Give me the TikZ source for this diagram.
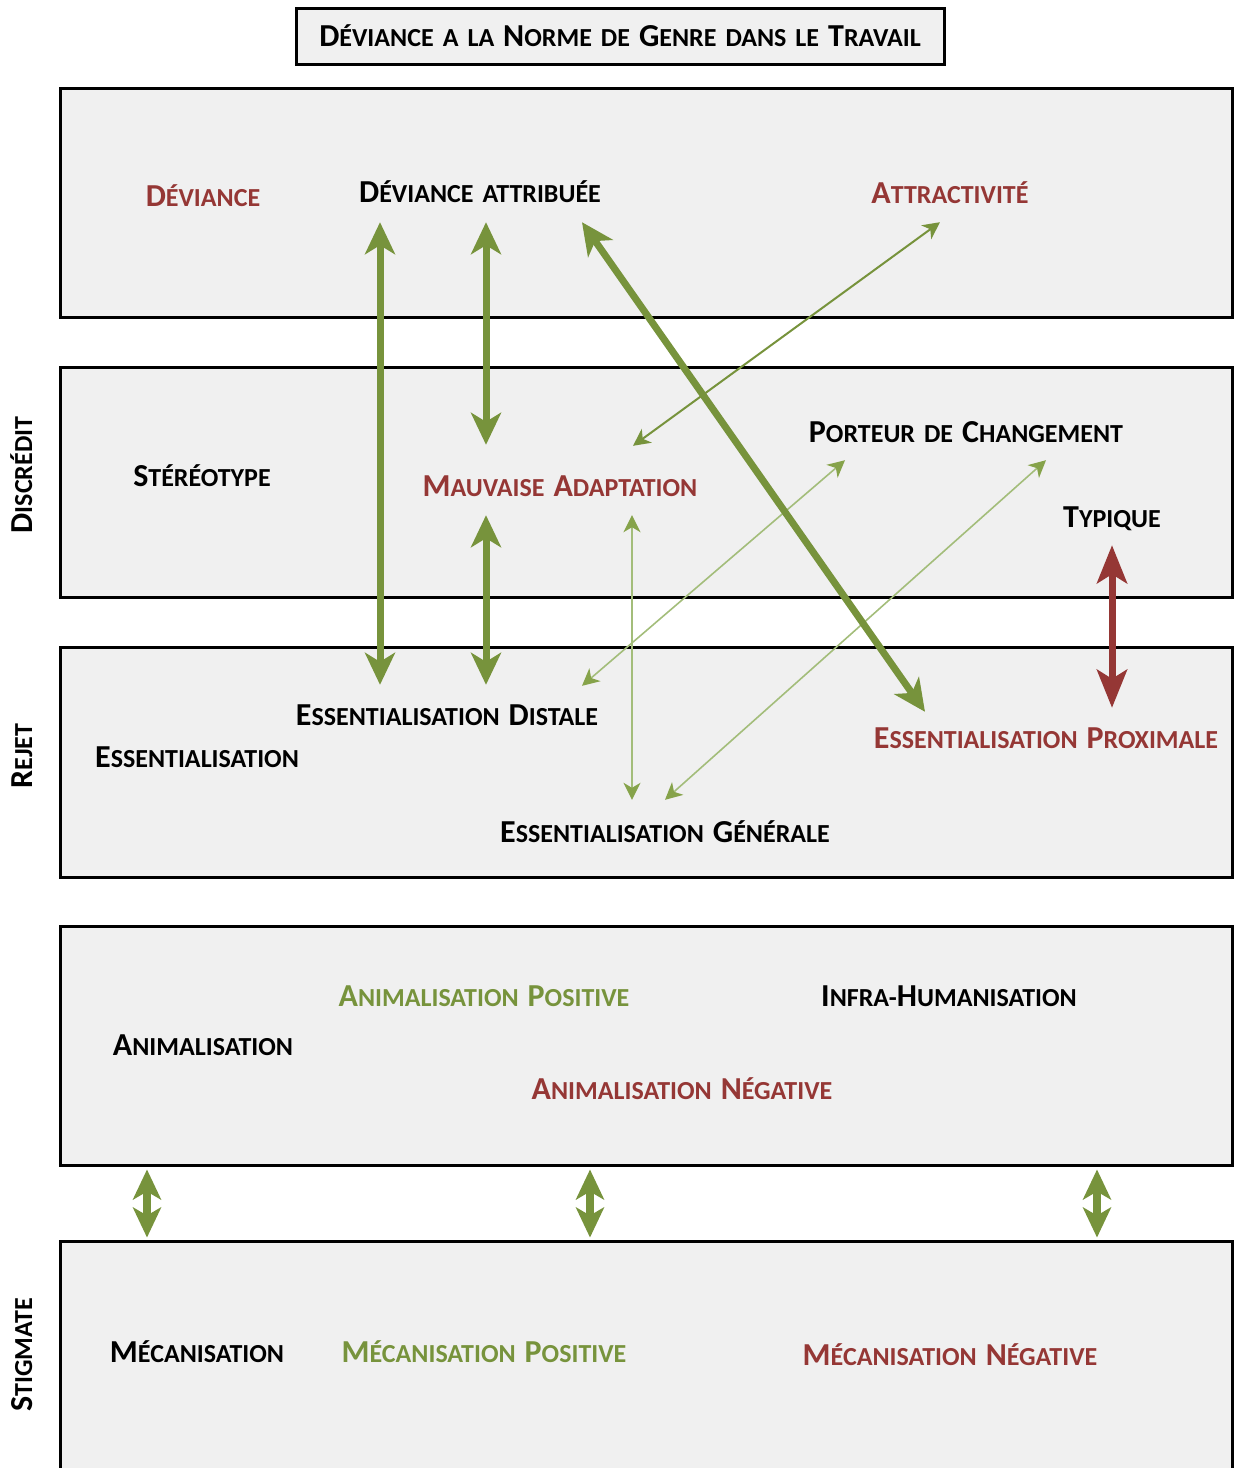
\documentclass[tikz,border=0pt]{standalone}
\usepackage{fontspec}
\setmainfont{Carlito}
\usetikzlibrary{arrows.meta}
\definecolor{dred}{HTML}{953735}
\definecolor{dgreen}{HTML}{77933C}
\definecolor{mgreen}{HTML}{86A34A}
\definecolor{lgreen}{HTML}{A3BD7A}
\definecolor{boxgray}{HTML}{F0F0F0}
\newcommand{\Cap}[1]{{\fontsize{32}{32}\selectfont #1}}
\tikzset{
  band/.style={draw=black, line width=3pt, fill=boxgray, minimum width=1172pt, inner sep=0pt},
  lbl/.style={font={\bfseries\fontsize{26}{26}\selectfont\spaceskip=9pt\relax}, inner sep=0pt, text height=20pt, text depth=0pt, anchor=center},
  redt/.style={lbl, text=dred},
  greent/.style={lbl, text=dgreen},
  sidelbl/.style={lbl, rotate=90},
  thickarr/.style={draw=dgreen, line width=7pt,
     {Stealth[length=32pt,width=30pt,inset=9pt]}-{Stealth[length=32pt,width=30pt,inset=9pt]}},
  redarr/.style={draw=dred, line width=7pt,
     {Stealth[length=38pt,width=30pt,inset=9pt]}-{Stealth[length=38pt,width=30pt,inset=9pt]}},
  medarr/.style={draw=dgreen, line width=2pt,
     {Stealth[length=17pt,width=17pt,inset=5pt]}-{Stealth[length=17pt,width=17pt,inset=5pt]}},
  thinarr/.style={draw=lgreen, line width=1.6pt,
     {Stealth[length=17pt,width=17pt,inset=5pt,color=mgreen]}-{Stealth[length=17pt,width=17pt,inset=5pt,color=mgreen]}},
  botarr/.style={draw=dgreen, line width=8pt,
     {Stealth[length=30pt,width=28pt,inset=8pt]}-{Stealth[length=30pt,width=28pt,inset=8pt]}}
}
\begin{document}
\begin{tikzpicture}[x=1pt,y=-1pt]
\useasboundingbox (0,0) rectangle (1234,1468);
% title
\node[draw=black, line width=3pt, fill=boxgray, minimum width=648pt, minimum height=56pt, inner sep=0pt] (title) at (620,36) {};
\node[lbl] (titletext) at (620,36) {\Cap{D}ÉVIANCE A LA \Cap{N}ORME DE \Cap{G}ENRE DANS LE \Cap{T}RAVAIL};
% bands
\node[band, minimum height=229pt] (b1) at (646,202.5) {};
\node[band, minimum height=230pt] (b2) at (646,482) {};
\node[band, minimum height=230pt] (b3) at (646,762) {};
\node[band, minimum height=239pt] (b4) at (646,1045.5) {};
\node[band, minimum height=260pt] (b5) at (646,1371) {};
% side labels
\node[sidelbl] (disc) at (22,475) {\Cap{D}ISCRÉDIT};
\node[sidelbl] (rejet) at (22,756) {\Cap{R}EJET};
\node[sidelbl] (stig) at (22,1355) {\Cap{S}TIGMATE};
% labels
\node[redt] (dev) at (203,196) {\Cap{D}ÉVIANCE};
\node[lbl] (da) at (480,192) {\Cap{D}ÉVIANCE ATTRIBUÉE};
\node[redt] (attr) at (950,193) {\Cap{A}TTRACTIVITÉ};
\node[lbl] (ster) at (202,476) {\Cap{S}TÉRÉOTYPE};
\node[redt] (mauv) at (560,486) {\Cap{M}AUVAISE \Cap{A}DAPTATION};
\node[lbl] (port) at (966,432) {\Cap{P}ORTEUR DE \Cap{C}HANGEMENT};
\node[lbl] (typ) at (1112,517) {\Cap{T}YPIQUE};
\node[lbl] (edist) at (447,715) {\Cap{E}SSENTIALISATION \Cap{D}ISTALE};
\node[lbl] (ess) at (197,757) {\Cap{E}SSENTIALISATION};
\node[redt] (eprox) at (1046,738) {\Cap{E}SSENTIALISATION \Cap{P}ROXIMALE};
\node[lbl] (egen) at (665,832) {\Cap{E}SSENTIALISATION \Cap{G}ÉNÉRALE};
\node[greent] (apos) at (484,996) {\Cap{A}NIMALISATION \Cap{P}OSITIVE};
\node[lbl] (infra) at (949,996) {\Cap{I}NFRA-\Cap{H}UMANISATION};
\node[lbl] (anim) at (203,1045) {\Cap{A}NIMALISATION};
\node[redt] (aneg) at (682,1089) {\Cap{A}NIMALISATION \Cap{N}ÉGATIVE};
\node[lbl] (mec) at (197,1352) {\Cap{M}ÉCANISATION};
\node[greent] (mpos) at (484,1352) {\Cap{M}ÉCANISATION \Cap{P}OSITIVE};
\node[redt] (mneg) at (950,1355) {\Cap{M}ÉCANISATION \Cap{N}ÉGATIVE};
% thin arrows
\draw[thinarr] ([xshift=-121pt,yshift=-18pt]port.south) -- ([xshift=135pt,yshift=19pt]edist.north);
\draw[thinarr] ([xshift=80pt,yshift=-18pt]port.south) -- ([xshift=0pt,yshift=22pt]egen.north);
\draw[thinarr] ([xshift=72pt,yshift=-19pt]mauv.south) -- ([xshift=-33pt,yshift=22pt]egen.north);
\draw[medarr] ([xshift=-10pt,yshift=-19pt]attr.south) -- ([xshift=73pt,yshift=30pt]mauv.north);
% thick arrows
\draw[thickarr] ([xshift=-100pt,yshift=-20pt]da.south) -- ([xshift=-67pt,yshift=20pt]edist.north);
\draw[thickarr] ([xshift=6pt,yshift=-20pt]da.south) -- ([xshift=-74pt,yshift=31pt]mauv.north);
\draw[thickarr] ([xshift=-74pt,yshift=-19pt]mauv.south) -- ([xshift=39pt,yshift=20pt]edist.north);
\draw[thickarr] ([xshift=102pt,yshift=-20pt]da.south) -- ([xshift=-121pt,yshift=16pt]eprox.north);
\draw[redarr] ([yshift=-18pt]typ.south) -- ([xshift=66pt,yshift=20pt]eprox.north);
% bottom arrows
\draw[botarr] ([xshift=-499pt,yshift=-3pt]b4.south) -- ([xshift=-499pt,yshift=2pt]b5.north);
\draw[botarr] ([xshift=-56pt,yshift=-3pt]b4.south) -- ([xshift=-56pt,yshift=2pt]b5.north);
\draw[botarr] ([xshift=451pt,yshift=-3pt]b4.south) -- ([xshift=451pt,yshift=2pt]b5.north);
\end{tikzpicture}
\end{document}
